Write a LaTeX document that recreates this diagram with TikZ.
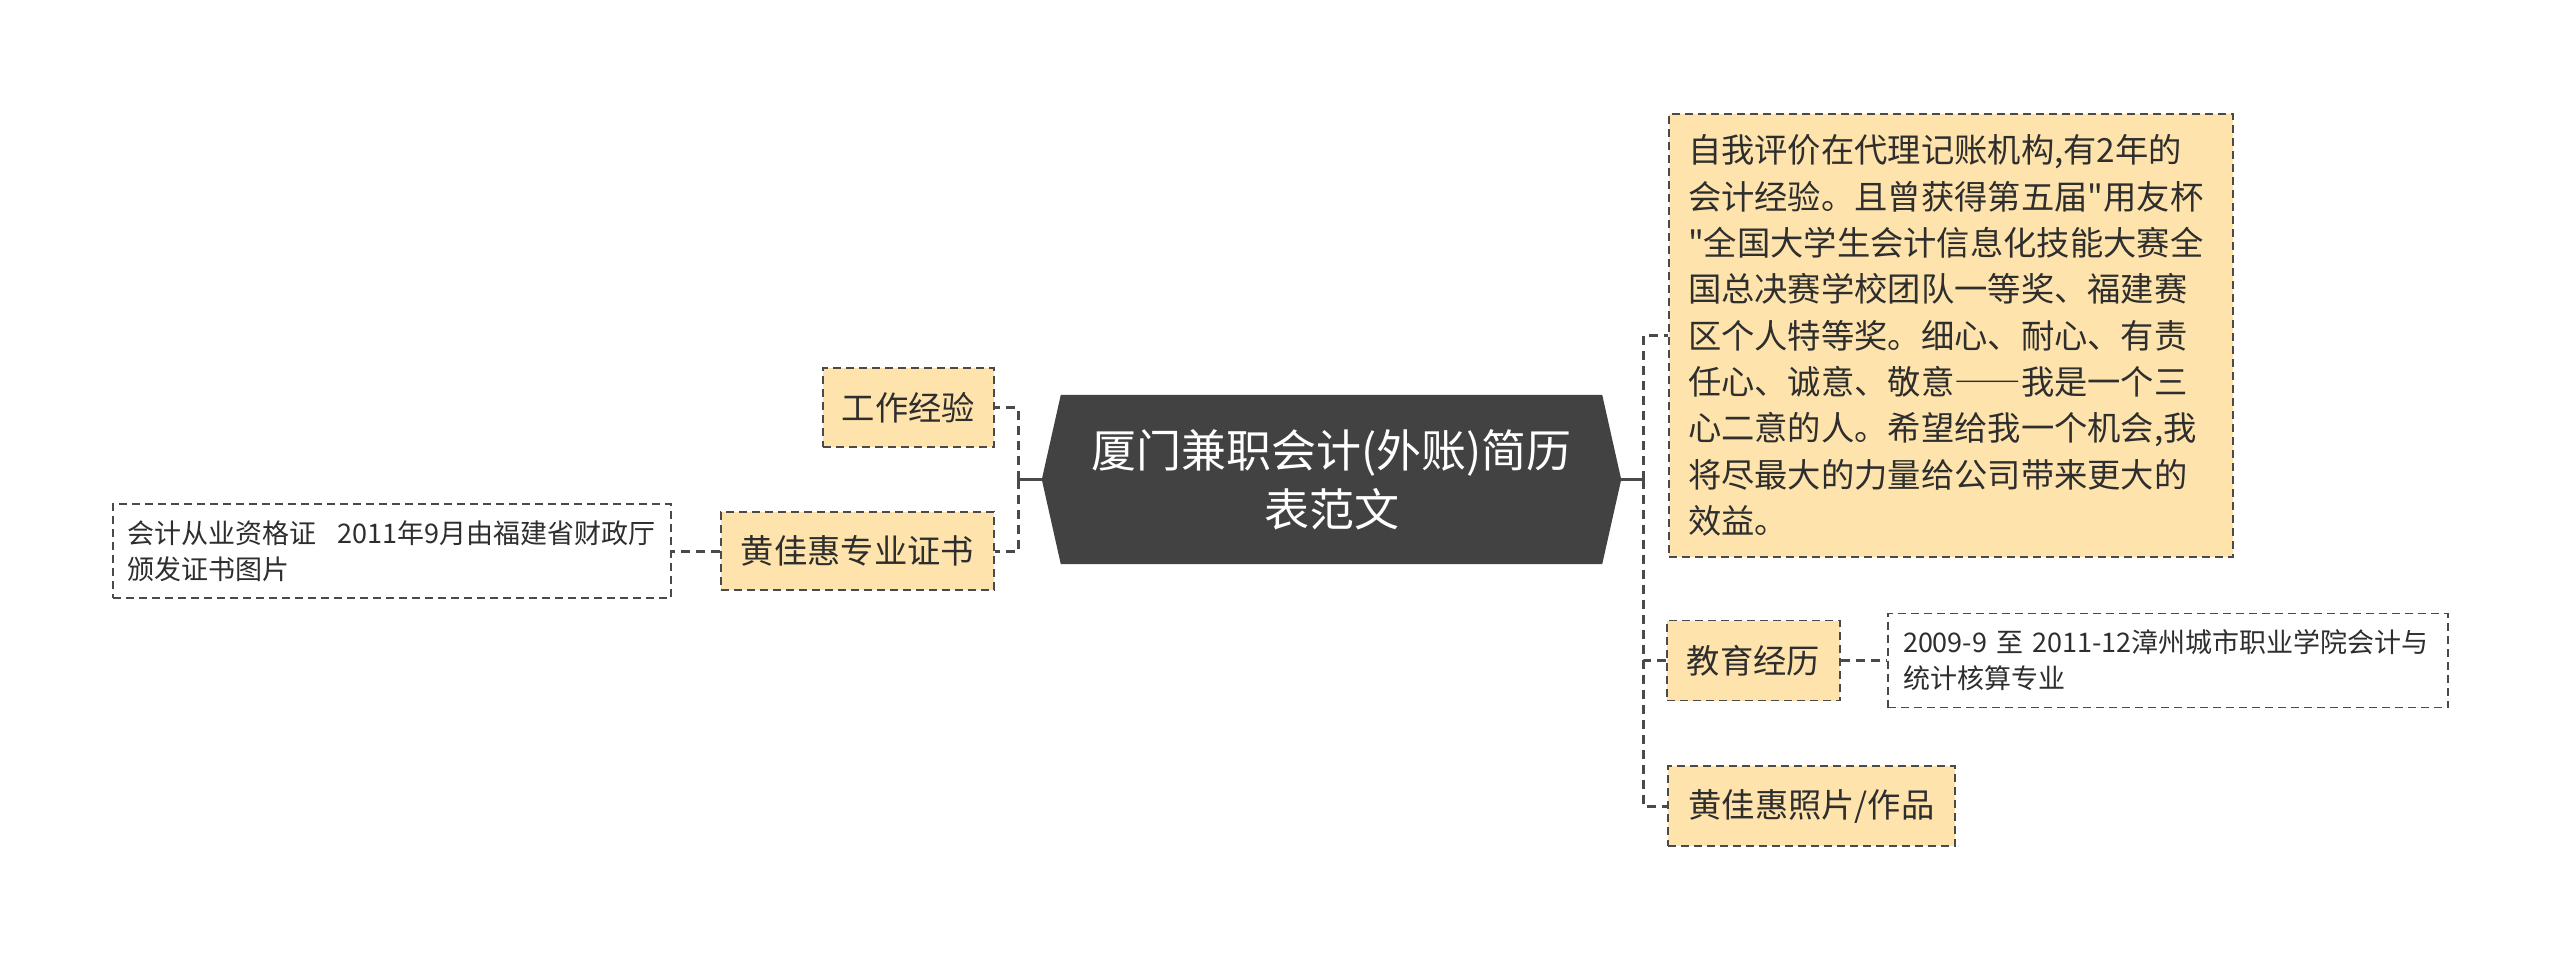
\documentclass[tikz,border=0pt]{standalone}
\usepackage{fontspec}
\setmainfont{Noto Sans CJK SC}
\newfontfamily\qfont{Noto Sans CJK SC}
\usetikzlibrary{backgrounds}
\definecolor{boxfill}{HTML}{FEE4AC}
\definecolor{rootfill}{HTML}{424242}
\definecolor{linecol}{HTML}{4A4A4A}
\definecolor{txt}{HTML}{2E2E2E}
\tikzset{
  topicbox/.style={draw=linecol, line width=1.8pt, dash pattern=on 8pt off 5pt, fill=boxfill,
    inner sep=0pt, text=txt, font=\fontsize{33.3}{46.3}\selectfont},
  notebox/.style={draw=linecol, line width=1.8pt, dash pattern=on 8pt off 5pt, fill=white,
    inner sep=0pt, text=txt, font=\fontsize{27}{36}\selectfont, align=left},
  conn/.style={draw=linecol, line width=3pt, dash pattern=on 9pt off 6pt},
  stub/.style={draw=linecol, line width=3pt},
}
\begin{document}
\begin{tikzpicture}[x=1pt,y=-1pt]
\useasboundingbox (0,0) rectangle (2560,959);

% root
\node[minimum width=579pt, minimum height=169pt, inner sep=0pt, text=white, align=center,
      font=\fontsize{45}{59}\selectfont] (root) at (1331.5,479.5) {厦门兼职会计(外账)简历\\表范文};
\begin{scope}[on background layer]
\fill[white] (0,0) rectangle (2560,959);
\fill[rootfill] (root.west) -- ([xshift=19pt]root.north west) -- ([xshift=-19pt]root.north east)
  -- (root.east) -- ([xshift=-19pt]root.south east) -- ([xshift=19pt]root.south west) -- cycle;
\end{scope}

% left side
\node[topicbox, minimum width=171pt, minimum height=79pt] (work) at (908.5,407.5) {工作经验};
\node[topicbox, minimum width=273pt, minimum height=78pt] (cert) at (857.5,551) {黄佳惠专业证书};
\node[notebox, text width=530pt, inner xsep=14pt, minimum height=94pt] (certd) at (392,551)
  {会计从业资格证\hspace{22pt}2011年9月由福建省财政厅\\颁发证书图片};

% right side
\node[topicbox, text width=526pt, inner xsep=19pt, minimum height=443pt, align=left] (eval) at (1951,335.5)
  {自我评价在代理记账机构,有2年的\\
   会计经验。且曾获得第五届{\qfont"}用友杯\\
   {\qfont"}全国大学生会计信息化技能大赛全\\
   国总决赛学校团队一等奖、福建赛\\
   区个人特等奖。细心、耐心、有责\\
   任心、诚意、敬意{\addfontfeature{CharacterWidth=Full}——}我是一个三\\
   心二意的人。希望给我一个机会,我\\
   将尽最大的力量给公司带来更大的\\
   效益。};
\node[topicbox, minimum width=173pt, minimum height=80pt] (edu) at (1753.5,660.5) {教育经历};
\node[notebox, text width=530pt, inner xsep=15pt, minimum height=94pt] (edud) at (2168,660.5)
  {2009-9 至 2011-12漳州城市职业学院会计与\\统计核算专业};
\node[topicbox, minimum width=287pt, minimum height=80pt] (photo) at (1811.5,806) {黄佳惠照片/作品};

% connectors
\coordinate (sl) at (1018,479.5);
\coordinate (sr) at (1643,479.5);
\draw[stub] (root.west) -- (sl);
\draw[stub] ([yshift=-8pt]sl) -- ([yshift=8pt]sl);
\draw[conn] (sl) |- (work.east);
\draw[conn] (sl) |- (cert.east);
\draw[conn] (cert.west) -- (certd.east);

\draw[stub] (root.east) -- (sr);
\draw[stub] ([yshift=-8pt]sr) -- ([yshift=8pt]sr);
\draw[conn] (sr) |- (eval.west);
\draw[conn] (sr) |- (edu.west);
\draw[conn] (sr) |- (photo.west);
\draw[conn] (edu.east) -- (edud.west);
\end{tikzpicture}
\end{document}
